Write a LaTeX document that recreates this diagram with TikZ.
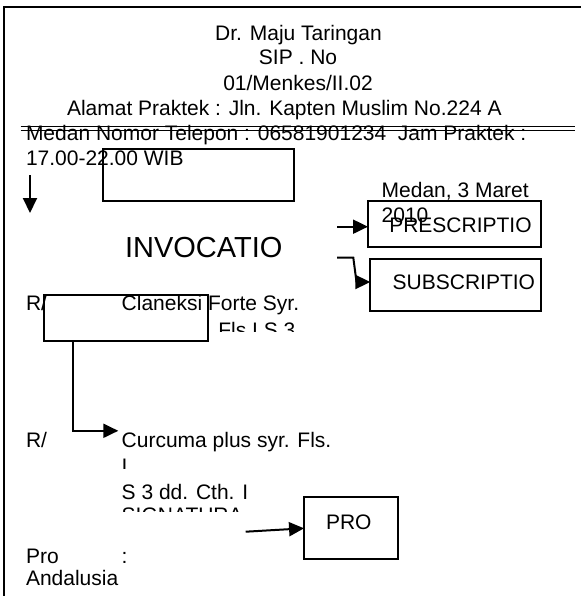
\documentclass[tikz,border=0pt]{standalone}
\usepackage{fontspec}
\setmainfont{Liberation Sans}
\usetikzlibrary{arrows.meta}
\tikzset{
  txt/.style={inner sep=0pt, outer sep=0pt, anchor=base west, font=\fontsize{21}{25}\selectfont},
  ctxt/.style={txt, anchor=base},
  bigtxt/.style={txt, font=\fontsize{29}{34}\selectfont},
  boxstyle/.style={draw, line width=2pt, inner sep=0pt, outer sep=0pt},
  arr/.style={line width=2pt, -{Triangle[length=15pt,width=14pt]}},
  framel/.style={line width=2pt},
  dline/.style={line width=1.5pt}
}
\begin{document}
\begin{tikzpicture}[x=1pt,y=-1pt]
\useasboundingbox (0,0) rectangle (581,596);
% frame
\coordinate (fbl) at (4,596);
\coordinate (ftl) at (4,7.5);
\coordinate (ftr) at (581,7.5);
\draw[framel] (fbl) -- (ftl) -- (ftr);
% double rule
\coordinate (r1a) at (20.5,126.3);
\coordinate (r1b) at (575,126.3);
\coordinate (r2a) at (20.5,130.5);
\coordinate (r2b) at (575,130.5);
\draw[dline] (r1a) -- (r1b);
\draw[dline] (r2a) -- (r2b);
% header texts
\node[ctxt] (t1) at (298.5,40.7) {Dr. Maju Taringan};
\node[ctxt] (t2) at (298,65) {SIP . No};
\node[ctxt] (t3) at (298,91) {01/Menkes/II.02};
\node[txt] (t4) at (67,116) {Alamat Praktek : Jln. Kapten Muslim No.224 A};
\node[txt] (t5) at (26,140.7) {Medan Nomor Telepon : 06581901234\ \ Jam Praktek :};
\node[txt] (t6) at (26,165) {17.00-22.00 WIB};
% empty box 1
\node[boxstyle, minimum width=191pt, minimum height=52pt] (box1) at (198.5,175) {};
% down arrow
\coordinate (d1) at (30,175);
\coordinate (d2) at (30,213);
\draw[arr] (d1) -- (d2);
% date
\node[txt] (date1) at (381.7,197.7) {Medan, 3 Maret};
\node[txt] (date2) at (381.7,222.7) {2010};
% prescriptio
\node[boxstyle, minimum width=173pt, minimum height=46pt] (presc) at (454.5,224) {};
\node[txt] (presct) at (389.3,232.3) {PRESCRIPTIO};
\coordinate (pa) at (337.3,226.7);
\draw[arr] (pa) -- (pa -| presc.west);
% invocatio
\node[bigtxt] (invo) at (125,257.3) {INVOCATIO};
% subscriptio
\node[boxstyle, minimum width=171pt, minimum height=52pt] (subsc) at (455.8,285) {};
\node[txt] (subsct) at (392.7,289.5) {SUBSCRIPTIO};
\coordinate (sa) at (337,257.7);
\coordinate (sbend) at (353.3,257.7);
\coordinate (sb) at (356.5,282);
\draw[arr] (sa) -- (sbend) -- (sb) -- (sb -| subsc.west);
% first recipe
\node[txt] (r1) at (26,310) {R/};
\node[boxstyle, minimum width=164pt, minimum height=46pt] (box2) at (126.3,317.9) {};
\node[txt] (clan) at (121.7,310) {Claneksi Forte Syr.};
\begin{scope}
  \clip (0,300) rectangle (581,331);
  \node[txt] (fls) at (218.3,337.3) {Fls I S 3};
\end{scope}
% connector box2 -> curcuma
\coordinate (c2) at (72.7,340.9);
\coordinate (ca) at (118.3,430.8);
\draw[arr] (c2) |- (ca);
% second recipe
\node[txt] (r2) at (26,447.5) {R/};
\node[txt] (curc) at (121.7,447.5) {Curcuma plus syr. Fls.};
\begin{scope}
  \clip (0,450) rectangle (581,468.3);
  \node[txt] (curci) at (121.7,473) {I};
\end{scope}
\node[txt] (sdd) at (121.7,499.3) {S 3 dd. Cth. I};
\begin{scope}
  \clip (0,502) rectangle (581,511.7);
  \node[txt] (sign) at (121.7,522.3) {SIGNATURA};
\end{scope}
% pro box
\node[boxstyle, minimum width=93.7pt, minimum height=62pt] (pro) at (350.9,528.3) {};
\node[txt] (prot) at (326,529.5) {PRO};
\coordinate (pr) at (245.7,531.7);
\draw[arr] (pr) -- (pro.west);
% bottom texts
\node[txt] (pro1) at (26,563) {Pro};
\node[txt] (colon) at (121.7,563) {:};
\node[txt] (anda) at (26,585) {Andalusia};
\end{tikzpicture}
\end{document}
